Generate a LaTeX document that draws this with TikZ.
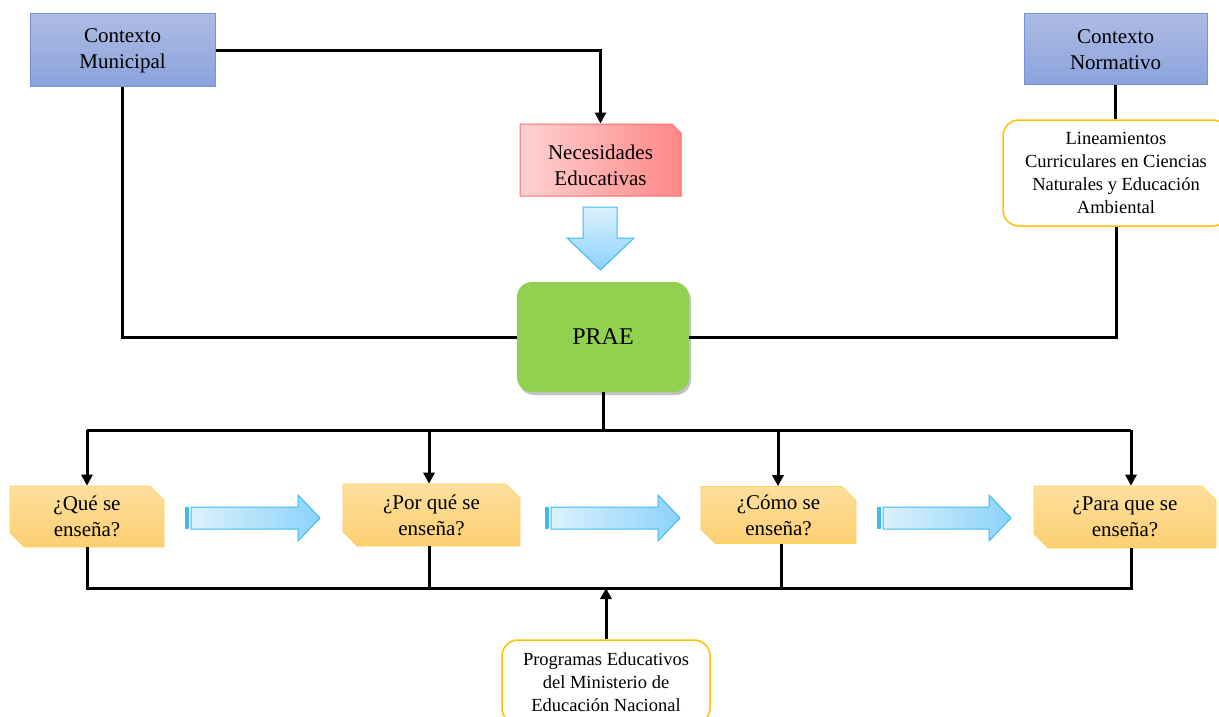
\documentclass[tikz,border=0pt]{standalone}
\usepackage{fontspec}
\setmainfont{Liberation Serif}
\usetikzlibrary{shapes.misc,arrows.meta,shadows}
\definecolor{ctxtop}{HTML}{AEBCE4}
\definecolor{ctxbot}{HTML}{8AA2DB}
\definecolor{ctxline}{HTML}{7392D9}
\definecolor{necA}{HTML}{FFD2D2}
\definecolor{necB}{HTML}{FF8787}
\definecolor{necline}{HTML}{FF6B6B}
\definecolor{praeg}{HTML}{92D050}
\definecolor{gold}{HTML}{FFC000}
\definecolor{qtop}{HTML}{FEDF9E}
\definecolor{qbot}{HTML}{FCCF72}
\definecolor{bluA}{HTML}{DCF0FD}
\definecolor{bluB}{HTML}{8BD3FB}
\definecolor{bluline}{HTML}{3FBAF0}
\tikzset{
  bigtxt/.style={font=\fontsize{21}{26}\selectfont},
  smalltxt/.style={font=\fontsize{18.5}{23}\selectfont},
  ctxbox/.style={rectangle, draw=ctxline, line width=1pt, top color=ctxtop, bottom color=ctxbot, inner sep=0pt, align=center, bigtxt},
  qbox/.style={chamfered rectangle, chamfered rectangle corners={north east,south west}, chamfered rectangle xsep=7pt, chamfered rectangle ysep=7pt, draw=gold!70, line width=0.6pt, top color=qtop, bottom color=qbot, inner sep=0pt, align=center, bigtxt},
  whitebox/.style={rectangle, rounded corners=16pt, draw=gold, line width=1.5pt, fill=white, inner sep=0pt, align=center, smalltxt},
  ln/.style={line width=3pt, black},
  arr/.style={-{Triangle[width=11pt,length=11pt]}},
  bigarrow/.style={draw=bluline, line width=1pt, left color=bluA, right color=bluB}
}
\begin{document}
\begin{tikzpicture}[x=1pt,y=-1pt]
\useasboundingbox (0,0) rectangle (1219,717);

% nodes
\node[ctxbox, minimum width=185pt, minimum height=73pt] (ctxm) at (122.5,50.5) {Contexto\\Municipal};
\node[ctxbox, minimum width=183pt, minimum height=71pt] (ctxn) at (1115.5,49.5) {Contexto\\Normativo};
\node[chamfered rectangle, chamfered rectangle corners=north east, chamfered rectangle xsep=9pt, chamfered rectangle ysep=9pt, draw=necline, line width=1pt, left color=necA, right color=necB, inner sep=0pt, bigtxt, minimum width=161pt, minimum height=72pt] (nec) at (600.5,160) {\raisebox{-12pt}[0pt][0pt]{\begin{tabular}{@{}c@{}}Necesidades\\Educativas\end{tabular}}};
\node[rectangle, rounded corners=15pt, fill=praeg, drop shadow={shadow xshift=2pt, shadow yshift=-3pt, fill=black!40, opacity=0.6}, inner sep=0pt, minimum width=172pt, minimum height=110pt, font=\fontsize{24}{28}\selectfont] (prae) at (603,337) {PRAE};
\node[whitebox, minimum width=226pt, minimum height=106pt] (lin) at (1116,173) {Lineamientos\\Curriculares en Ciencias\\Naturales y Educación\\Ambiental};
\node[whitebox, minimum width=208pt, minimum height=84pt] (prog) at (606,682) {Programas Educativos\\del Ministerio de\\Educación Nacional};
\node[qbox, minimum width=154pt, minimum height=61pt] (q1) at (87,516.5) {¿Qué se\\enseña?};
\node[qbox, minimum width=177pt, minimum height=62pt] (q2) at (431.5,515) {¿Por qué se\\enseña?};
\node[qbox, minimum width=155pt, minimum height=57pt] (q3) at (778.5,515) {¿Cómo se\\enseña?};
\node[qbox, minimum width=182pt, minimum height=62pt] (q4) at (1125,517) {¿Para que se\\enseña?};

% blue down arrow
\path[draw=bluline, line width=1pt, top color=bluA, bottom color=bluB]
  (583,207) -- (617,207) -- (617,238) -- (634,238) -- (600.5,270) -- (567,238) -- (583,238) -- cycle;

% blue right arrows
\foreach \xs/\xe in {185/320, 545/680, 877/1011}{
  \fill[bluline] (\xs,507) rectangle ({\xs+4},529);
  \path[bigarrow] ({\xs+6},507) -- ({\xe-22},507) -- ({\xe-22},495) -- (\xe,518) -- ({\xe-22},541) -- ({\xe-22},529) -- ({\xs+6},529) -- cycle;
}

% connectors
\draw[ln, arr] (ctxm.east) -| (nec.north);
\draw[ln] (ctxm.south) |- (prae.west);
\draw[ln] (ctxn.south) -- (ctxn.south |- lin.north);
\draw[ln] (prae.east) -| (lin.south);

\coordinate (b1) at (87,430);
\coordinate (b2) at (429,430);
\coordinate (b3) at (778,430);
\coordinate (b4) at (1131,430);
\coordinate (c1) at (87,588);
\coordinate (c2) at (429,588);
\coordinate (c3) at (781,588);
\coordinate (c4) at (1131,588);

\draw[ln] (prae.south) -- (prae.south |- b1);
\draw[ln] (b1) -- (b4);
\draw[ln, arr] (b1) -- (b1 |- q1.north);
\draw[ln, arr] (b2) -- (b2 |- q2.north);
\draw[ln, arr] (b3) -- (b3 |- q3.north);
\draw[ln, arr] (b4) -- (b4 |- q4.north);

\draw[ln] (c1 |- q1.south) -- (c1) -- (c4) -- (c4 |- q4.south);
\draw[ln] (c2 |- q2.south) -- (c2);
\draw[ln] (c3 |- q3.south) -- (c3);
\draw[ln, arr] (prog.north) -- (prog.north |- c1);
\end{tikzpicture}
\end{document}
